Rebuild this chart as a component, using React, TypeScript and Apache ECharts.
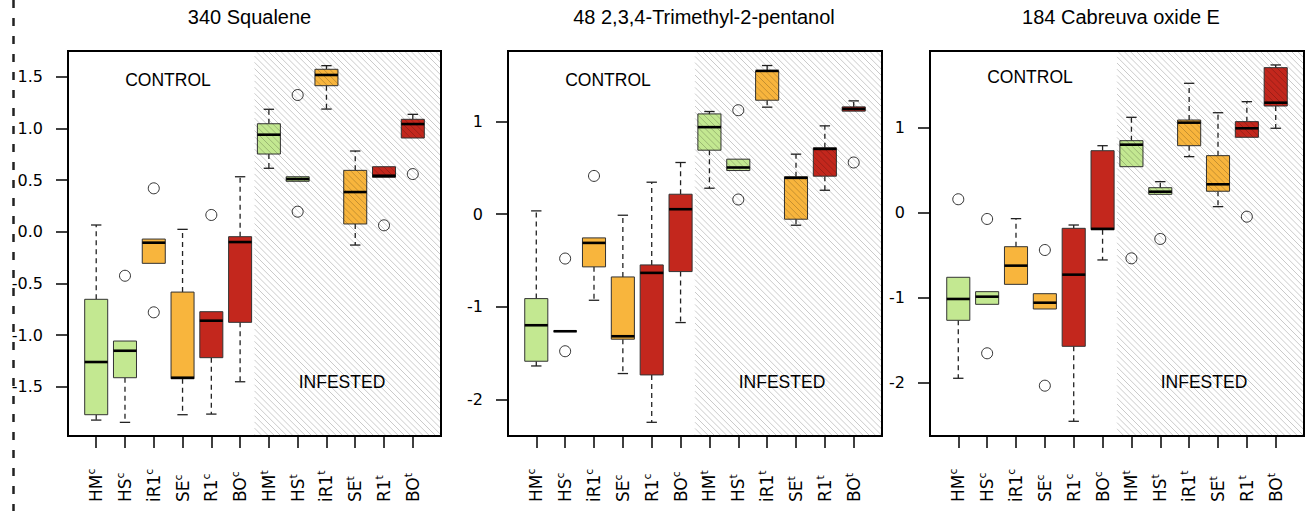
import React, { useEffect, useRef } from "react";
import * as echarts from "echarts";

const categories = ["HM", "HS", "iR1", "SE", "R1", "BO", "HM", "HS", "iR1", "SE", "R1", "BO"];
const suffixes = ["c", "c", "c", "c", "c", "c", "t", "t", "t", "t", "t", "t"];
const GREEN = "#C3E891";
const ORANGE = "#F8B53D";
const RED = "#C3271D";
const groupColors = [GREEN, GREEN, ORANGE, ORANGE, RED, RED, GREEN, GREEN, ORANGE, ORANGE, RED, RED];

const titles = ["340 Squalene", "48 2,3,4-Trimethyl-2-pentanol", "184 Cabreuva oxide E"];

// [lower whisker, Q1, median, Q3, upper whisker]
const squaleneBoxes = [
  [-1.823, -1.771, -1.261, -0.654, 0.065],
  [-1.845, -1.413, -1.152, -1.058, -1.058],
  [-0.306, -0.306, -0.106, -0.071, -0.071],
  [-1.771, -1.423, -1.413, -0.584, 0.023],
  [-1.765, -1.219, -0.861, -0.774, -0.774],
  [-1.452, -0.877, -0.1, -0.048, 0.532],
  [0.614, 0.752, 0.939, 1.045, 1.185],
  [0.488, 0.488, 0.51, 0.532, 0.532],
  [1.187, 1.413, 1.517, 1.572, 1.607],
  [-0.129, 0.075, 0.384, 0.594, 0.781],
  [0.526, 0.526, 0.542, 0.629, 0.629],
  [0.907, 0.907, 1.042, 1.088, 1.136],
];
const squaleneOutliers = [[2, -0.426], [3, 0.42], [3, -0.78], [5, 0.162], [8, 1.323], [8, 0.194], [11, 0.062], [12, 0.558]];

const pentanolBoxes = [
  [-1.64, -1.589, -1.2, -0.912, 0.036],
  [-1.265, -1.265, -1.265, -1.265, -1.265],
  [-0.93, -0.569, -0.31, -0.256, -0.256],
  [-1.722, -1.351, -1.319, -0.678, -0.011],
  [-2.249, -1.737, -0.634, -0.548, 0.346],
  [-1.171, -0.62, 0.054, 0.216, 0.559],
  [0.281, 0.692, 0.941, 1.084, 1.11],
  [0.472, 0.472, 0.505, 0.595, 0.595],
  [1.157, 1.232, 1.549, 1.549, 1.607],
  [-0.119, -0.054, 0.393, 0.404, 0.649],
  [0.259, 0.411, 0.706, 0.717, 0.955],
  [1.114, 1.114, 1.138, 1.16, 1.225],
];
const pentanolOutliers = [[2, -0.479], [2, -1.481], [3, 0.414], [8, 1.124], [8, 0.159], [12, 0.559]];

const cabreuvaBoxes = [
  [-1.948, -1.266, -1.015, -0.76, -0.76],
  [-1.078, -1.078, -0.988, -0.929, -0.929],
  [-0.843, -0.843, -0.623, -0.4, -0.07],
  [-1.133, -1.133, -1.059, -0.953, -0.953],
  [-2.454, -1.572, -0.729, -0.184, -0.145],
  [-0.556, -0.2, -0.19, 0.729, 0.788],
  [0.541, 0.541, 0.8, 0.847, 1.122],
  [0.216, 0.216, 0.247, 0.294, 0.365],
  [0.659, 0.788, 1.059, 1.09, 1.522],
  [0.071, 0.252, 0.334, 0.671, 1.176],
  [0.887, 0.887, 0.993, 1.071, 1.306],
  [0.993, 1.255, 1.294, 1.706, 1.738],
];
const cabreuvaOutliers = [[1, 0.158], [2, -0.074], [2, -1.654], [4, -0.439], [4, -2.035], [7, -0.537], [8, -0.309], [11, -0.047]];

const yTicks1 = [-1.5, -1, -0.5, 0, 0.5, 1, 1.5];
const yTicks23 = [-2, -1, 0, 1];
const yRanges = [[-1.977, 1.749], [-2.397, 1.764], [-2.627, 1.902]];
const xTicks = [1, 2, 3, 4, 5, 6, 7, 8, 9, 10, 11, 12];
const infestedStart = 6.5;

const panels = [
  { boxes: squaleneBoxes, outliers: squaleneOutliers, ticks: yTicks1, digits: 1 },
  { boxes: pentanolBoxes, outliers: pentanolOutliers, ticks: yTicks23, digits: 0 },
  { boxes: cabreuvaBoxes, outliers: cabreuvaOutliers, ticks: yTicks23, digits: 0 },
];

const gridLefts = [68, 508, 930];
const gridWidths = [373, 374, 374];
const GRID_TOP = 51;
const GRID_H = 385;
const titleCenters = [249.5, 704, 1121];
const controlY = [80, 80, 77];

const TICK_FONT = "DejaVu Sans";
const TEXT_FONT = "Liberation Sans";

function boxRender(params: any, api: any) {
  const x = api.value(0);
  const lo = api.value(1);
  const q1 = api.value(2);
  const med = api.value(3);
  const q3 = api.value(4);
  const hi = api.value(5);
  const color = groupColors[params.dataIndex];
  const half = 0.4;
  const cap = 0.18;
  const children: any[] = [];
  const whisk = { stroke: "#222", lineWidth: 1.3, lineDash: [5, 4] };
  const capStyle = { stroke: "#222", lineWidth: 1.3 };
  const pHi = api.coord([x, hi]);
  const pQ3 = api.coord([x, q3]);
  const pQ1 = api.coord([x, q1]);
  const pLo = api.coord([x, lo]);
  if (hi > q3) {
    children.push({ type: "line", shape: { x1: pQ3[0], y1: pQ3[1], x2: pHi[0], y2: pHi[1] }, style: whisk });
    const a = api.coord([x - cap, hi]);
    const b = api.coord([x + cap, hi]);
    children.push({ type: "line", shape: { x1: a[0], y1: a[1], x2: b[0], y2: b[1] }, style: capStyle });
  }
  if (lo < q1) {
    children.push({ type: "line", shape: { x1: pQ1[0], y1: pQ1[1], x2: pLo[0], y2: pLo[1] }, style: whisk });
    const a = api.coord([x - cap, lo]);
    const b = api.coord([x + cap, lo]);
    children.push({ type: "line", shape: { x1: a[0], y1: a[1], x2: b[0], y2: b[1] }, style: capStyle });
  }
  const tl = api.coord([x - half, q3]);
  const br = api.coord([x + half, q1]);
  children.push({
    type: "rect",
    shape: { x: tl[0], y: tl[1], width: br[0] - tl[0], height: br[1] - tl[1] },
    style: { fill: color, stroke: "#333", lineWidth: 1 },
  });
  const m1 = api.coord([x - half, med]);
  const m2 = api.coord([x + half, med]);
  children.push({ type: "line", shape: { x1: m1[0], y1: m1[1], x2: m2[0], y2: m2[1] }, style: { stroke: "#000", lineWidth: 2.6 } });
  return { type: "group", children };
}

function hatchRender(params: any, api: any) {
  const cs = params.coordSys;
  const x0 = api.coord([api.value(0), 0])[0];
  const x1 = cs.x + cs.width;
  const y0 = cs.y;
  const y1 = cs.y + cs.height;
  const step = 6.2;
  const children: any[] = [];
  const cStart = Math.floor((y0 - x1) / step) * step;
  for (let c = cStart; c <= y1 - x0; c += step) {
    const xa = Math.max(x0, y0 - c);
    const xb = Math.min(x1, y1 - c);
    if (xb > xa) {
      children.push({
        type: "line",
        shape: { x1: xa, y1: xa + c, x2: xb, y2: xb + c },
        style: { stroke: "rgba(0,0,0,0.3)", lineWidth: 0.7 },
      });
    }
  }
  return { type: "group", children };
}

export default function App() {
  const ref = useRef<HTMLDivElement>(null);
  useEffect(() => {
    if (!ref.current) return;
    const chart = echarts.init(ref.current, null, { renderer: "svg" });
    const grids: any[] = [];
    const xAxes: any[] = [];
    const yAxes: any[] = [];
    const series: any[] = [];
    const graphics: any[] = [];

    panels.forEach((p, i) => {
      grids.push({
        left: gridLefts[i],
        top: GRID_TOP,
        width: gridWidths[i],
        height: GRID_H,
        show: true,
        borderColor: "#000",
        borderWidth: 2,
        backgroundColor: "transparent",
        containLabel: false,
      });
      xAxes.push({
        type: "value",
        gridIndex: i,
        position: "bottom",
        min: 0.02,
        max: 12.98,
        splitLine: { show: false },
        axisLine: { show: false, onZero: false },
        axisTick: { show: true, length: 12, lineStyle: { color: "#000", width: 1.5 }, customValues: xTicks },
        axisLabel: {
          customValues: xTicks,
          rotate: 90,
          align: "left",
          verticalAlign: "middle",
          margin: 66,
          fontSize: 17,
          fontFamily: TICK_FONT,
          color: "#000",
          formatter: (v: number) => {
            const k = Math.round(v) - 1;
            return `{m|${categories[k]}}{s|${suffixes[k]}}`;
          },
          rich: {
            m: { fontSize: 17, fontFamily: TICK_FONT, color: "#000", lineHeight: 20 },
            s: { fontSize: 11, fontFamily: TICK_FONT, color: "#000", verticalAlign: "top", lineHeight: 14 },
          },
        },
      });
      yAxes.push({
        type: "value",
        gridIndex: i,
        min: yRanges[i][0],
        max: yRanges[i][1],
        splitLine: { show: false },
        axisLine: { show: false, onZero: false },
        axisTick: { show: true, length: 12, lineStyle: { color: "#000", width: 1.5 }, customValues: p.ticks },
        axisLabel: {
          customValues: p.ticks,
          margin: 25,
          fontSize: 16,
          fontFamily: TICK_FONT,
          color: "#000",
          formatter: (v: number) => v.toFixed(p.digits),
        },
      });
      series.push({
        type: "custom",
        xAxisIndex: i,
        yAxisIndex: i,
        renderItem: boxRender,
        encode: { x: 0, y: [1, 2, 3, 4, 5] },
        data: p.boxes.map((b, k) => [k + 1, ...b]),
        z: 2,
        silent: true,
      });
      series.push({
        type: "scatter",
        xAxisIndex: i,
        yAxisIndex: i,
        symbol: "circle",
        symbolSize: 11,
        itemStyle: { color: "rgba(0,0,0,0)", borderColor: "#000", borderWidth: 1 },
        data: p.outliers,
        z: 3,
        silent: true,
      });
      series.push({
        type: "custom",
        xAxisIndex: i,
        yAxisIndex: i,
        renderItem: hatchRender,
        encode: { x: 0 },
        data: [[infestedStart]],
        z: 4,
        silent: true,
      });
      graphics.push({
        type: "text",
        x: titleCenters[i],
        y: 17,
        style: {
          text: titles[i],
          fill: "#000",
          fontSize: 20,
          fontFamily: TEXT_FONT,
          align: "center",
          verticalAlign: "middle",
          textAlign: "center",
          textVerticalAlign: "middle",
        },
      });
      graphics.push({
        type: "text",
        x: gridLefts[i] + 100,
        y: controlY[i],
        style: {
          text: "CONTROL",
          fill: "#000",
          fontSize: 17.5,
          fontFamily: TEXT_FONT,
          align: "center",
          verticalAlign: "middle",
          textAlign: "center",
          textVerticalAlign: "middle",
        },
      });
      graphics.push({
        type: "text",
        x: gridLefts[i] + 274,
        y: 381.7,
        style: {
          text: "INFESTED",
          fill: "#000",
          fontSize: 17.5,
          fontFamily: TEXT_FONT,
          align: "center",
          verticalAlign: "middle",
          textAlign: "center",
          textVerticalAlign: "middle",
        },
      });
    });

    graphics.push({
      type: "line",
      shape: { x1: 13.5, y1: 0, x2: 13.5, y2: 511 },
      style: { stroke: "#222", lineWidth: 2.5, lineDash: [8, 10] },
    });

    chart.setOption({
      animation: false,
      grid: grids,
      xAxis: xAxes,
      yAxis: yAxes,
      series,
      graphic: graphics,
    });
    return () => chart.dispose();
  }, []);
  return (
    <div
      ref={ref}
      style={{ position: "fixed", left: 0, top: 0, width: 1309, height: 511, background: "#fff" }}
    />
  );
}
